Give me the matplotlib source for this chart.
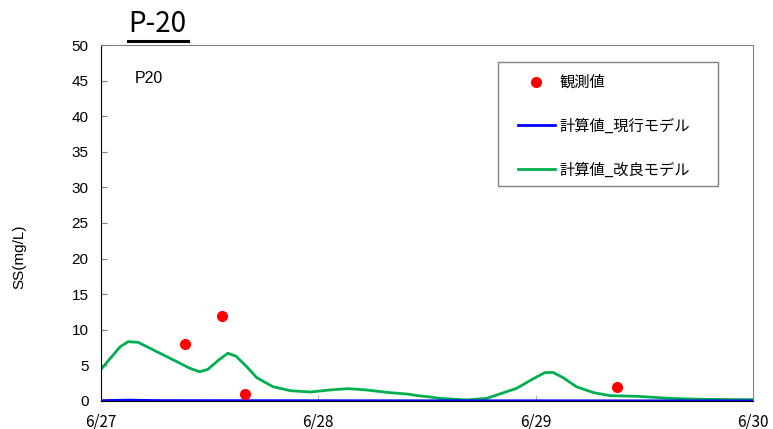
import matplotlib
matplotlib.use("Agg")
import matplotlib.pyplot as plt
from matplotlib.patches import Rectangle

plt.rcParams['font.family'] = ['Noto Sans CJK JP', 'DejaVu Sans']

# time in hours from 6/27 00:00
model_new_hours = [0, 2.1, 3.0, 4.1, 6.2, 8.0, 9.8, 10.9, 11.8, 13.0, 14.0, 14.9, 16.1, 17.2,
                   19.0, 20.9, 23.1, 25.3, 27.3, 29.3, 31.9, 33.8, 35.0, 36.1, 37.4, 40.4,
                   42.6, 45.9, 47.7, 49.0, 49.9, 51.0, 52.5, 54.4, 56.2, 59.2, 62.8, 66.5, 72]
model_new_vals = [4.45, 7.6, 8.33, 8.24, 6.9, 5.76, 4.6, 4.1, 4.45, 5.76, 6.7, 6.3, 4.8, 3.27,
                  2.0, 1.45, 1.26, 1.55, 1.73, 1.55, 1.17, 0.98, 0.75, 0.6, 0.37, 0.14,
                  0.37, 1.78, 3.1, 3.98, 4.02, 3.3, 2.0, 1.17, 0.75, 0.66, 0.37, 0.23, 0.18]

model_cur_hours = [0, 3, 6, 12, 24, 36, 48, 60, 72]
model_cur_vals = [0.05, 0.12, 0.06, 0.05, 0.04, 0.03, 0.03, 0.02, 0.02]

obs_hours = [9.3, 13.4, 15.9, 57.0]
obs_vals = [8.0, 12.0, 1.0, 2.0]

xtick_hours = [0, 24, 48, 72]
xtick_labels = ['6/27', '6/28', '6/29', '6/30']

fig = plt.figure(figsize=(7.73, 4.29), dpi=100)
ax = fig.add_axes([0.1307, 0.0653, 0.8434, 0.8298])

ax.plot(obs_hours, obs_vals, 'o', color='#ff0000', markersize=7, label='観測値', zorder=4)
ax.plot(model_cur_hours, model_cur_vals, '-', color='#0000ff', lw=2, label='計算値_現行モデル', zorder=3)
ax.plot(model_new_hours, model_new_vals, '-', color='#00b050', lw=2, label='計算値_改良モデル', zorder=2)

ax.set_xlim(0, 72)
ax.set_ylim(0, 50)
ax.set_yticks(range(0, 51, 5))
ax.set_xticks(xtick_hours)
ax.set_xticklabels(xtick_labels)
ax.tick_params(axis='y', direction='in', length=4, labelsize=11, pad=9, color='#808080')
ax.tick_params(axis='x', direction='in', length=4, labelsize=11, pad=9, color='#b0b0b0')
for lbl in ax.get_yticklabels():
    lbl.set_fontfamily(['Liberation Sans'])

fig.text(19 / 773, 1 - 257 / 429, 'SS(mg/L)', rotation=90, fontsize=11, ha='center', va='center',
         family=['Liberation Sans'])

ax.spines['left'].set_color('black')
ax.spines['bottom'].set_color('black')
ax.spines['top'].set_color('#808080')
ax.spines['right'].set_color('#808080')

ax.text(0.052, 0.905, 'P20', transform=ax.transAxes, fontsize=11.5, ha='left', va='center',
        family=['Liberation Sans'])

fig.text(0.166, 0.945, 'P-20', fontsize=20, ha='left', va='center')
fig.add_artist(plt.Line2D([0.166, 0.243], [0.905, 0.905], color='black', lw=2.2, transform=fig.transFigure))

# legend frame
ax.add_patch(Rectangle((0.609, 0.604), 0.337, 0.348, transform=ax.transAxes, facecolor='white',
                       edgecolor='#808080', lw=1, zorder=5))
leg = ax.legend(loc='upper left', bbox_to_anchor=(0.6396, 0.9185),
                fontsize=11, frameon=False,
                handlelength=2.4, handletextpad=0.3, labelspacing=1.75, borderpad=0,
                borderaxespad=0)
leg.set_zorder(6)

fig.savefig('out.png', dpi=100)
